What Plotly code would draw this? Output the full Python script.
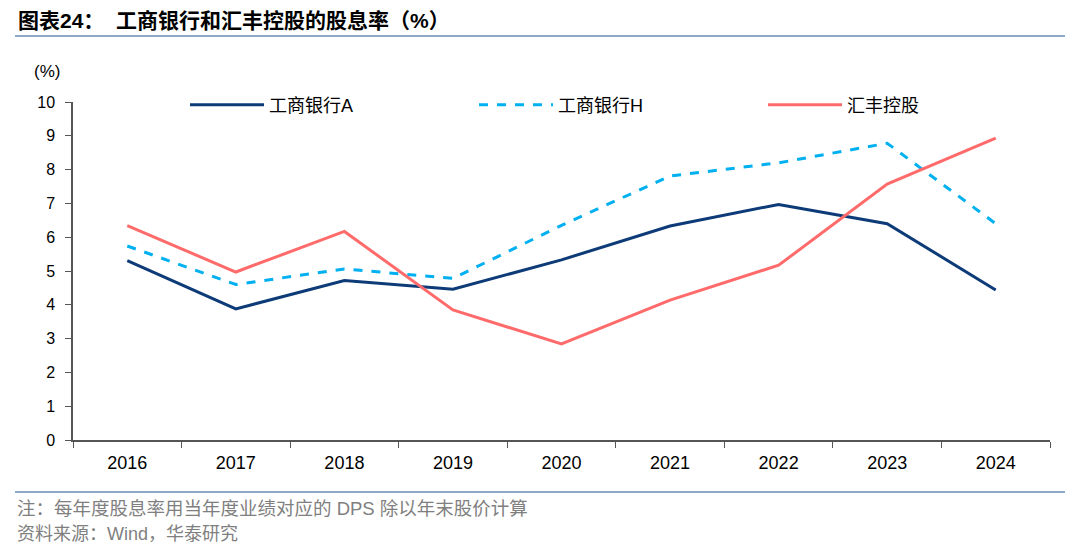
import plotly.graph_objects as go

years = ["2016", "2017", "2018", "2019", "2020", "2021", "2022", "2023", "2024"]
icbc_a = [5.31, 3.88, 4.72, 4.46, 5.33, 6.33, 6.97, 6.40, 4.44]
icbc_h = [5.74, 4.60, 5.06, 4.78, 6.35, 7.81, 8.20, 8.78, 6.40]
hsbc = [6.34, 4.97, 6.17, 3.85, 2.84, 4.14, 5.17, 7.57, 8.93]
names = ["工商银行A", "工商银行H", "汇丰控股"]
y_ticks = list(range(0, 11))

OFF = 8  # page body margin
W, H = 1080 - OFF, 553 - OFF
L, R, T, B = 73 - OFF, 1050 - OFF, 102 - OFF, 440 - OFF


def px(X):
    return (X - OFF - L) / (R - L)


def py(Y):
    return (B - (Y - OFF)) / (B - T)


cjk = "Noto Sans CJK SC"
lat = "Liberation Sans"

fig = go.Figure()
fig.add_trace(go.Scatter(x=years, y=icbc_a, name=names[0], mode="lines",
                         line=dict(color="#0D3B78", width=3)))
fig.add_trace(go.Scatter(x=years, y=icbc_h, name=names[1], mode="lines",
                         line=dict(color="#00B0F0", width=3, dash="dash")))
fig.add_trace(go.Scatter(x=years, y=hsbc, name=names[2], mode="lines",
                         line=dict(color="#FF6B6B", width=3)))

fig.update_layout(
    width=W, height=H,
    margin=dict(l=L, r=W - R, t=T, b=H - B, pad=0),
    paper_bgcolor="white", plot_bgcolor="white",
    font=dict(family=f"{lat}, {cjk}", size=16, color="#000000"),
    showlegend=True,
    legend=dict(orientation="h", x=px(185), y=py(105), xanchor="left", yanchor="middle",
                entrywidth=200, entrywidthmode="pixels", itemwidth=74,
                font=dict(family=f"{lat}, {cjk}", size=18), bgcolor="rgba(0,0,0,0)",
                tracegroupgap=0),
    xaxis=dict(type="category", range=[-0.5, len(years) - 0.5], showgrid=False, showline=True,
               linecolor="#555555", linewidth=1.5,
               ticks="outside", tickson="boundaries", ticklen=6, tickcolor="#555555",
               tickfont=dict(family=lat, size=18), ticklabelstandoff=6, zeroline=False),
    yaxis=dict(range=[0, 10], tickvals=y_ticks, showgrid=False, showline=True,
               linecolor="#555555", linewidth=1.5, ticks="outside", ticklen=6,
               tickcolor="#555555", tickfont=dict(family=lat, size=16), ticklabelstandoff=7,
               zeroline=False),
)

line_col = "#8EA9C8"
fig.add_shape(type="line", xref="paper", yref="paper", x0=px(15), x1=px(1065),
              y0=py(36), y1=py(36), line=dict(color=line_col, width=2))
fig.add_shape(type="line", xref="paper", yref="paper", x0=px(15), x1=px(1065),
              y0=py(492), y1=py(492), line=dict(color=line_col, width=2))

fig.add_annotation(xref="paper", yref="paper", x=px(16), y=py(20), xanchor="left", yanchor="middle",
                   text="<b>图表24：  工商银行和汇丰控股的股息率（%）</b>", showarrow=False,
                   font=dict(family=f"{lat}, {cjk}", size=21, color="#000000"))
fig.add_annotation(xref="paper", yref="paper", x=px(47), y=py(71), xanchor="center", yanchor="middle",
                   text="(%)", showarrow=False, font=dict(family=lat, size=17, color="#000000"))
fig.add_annotation(xref="paper", yref="paper", x=px(15), y=py(508), xanchor="left", yanchor="middle",
                   text="注：每年度股息率用当年度业绩对应的 DPS 除以年末股价计算", showarrow=False,
                   font=dict(family=f"{lat}, {cjk}", size=18.5, color="#7F7F7F"))
fig.add_annotation(xref="paper", yref="paper", x=px(15), y=py(534), xanchor="left", yanchor="middle",
                   text="资料来源：Wind，华泰研究", showarrow=False,
                   font=dict(family=f"{lat}, {cjk}", size=18, color="#7F7F7F"))

fig.write_html("out.html")
